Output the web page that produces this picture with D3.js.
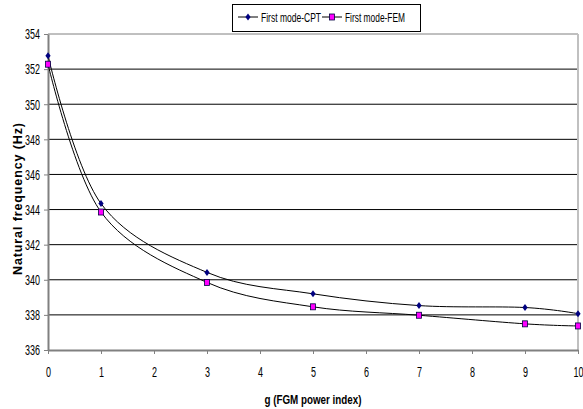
<!DOCTYPE html>
<html>
<head>
<meta charset="utf-8">
<script src="https://cdn.jsdelivr.net/npm/d3@7"></script>
<style>
  body { margin: 0; background: #fff; }
  svg text { font-family: "Liberation Sans", Arial, sans-serif; }
</style>
</head>
<body>
<div class="chart-holder"></div>
<script>
// data
const gValues = [0, 1, 3, 5, 7, 9, 10];
const cptValues = [352.76, 344.34, 340.42, 339.2, 338.53, 338.42, 338.07];
const femValues = [352.28, 343.86, 339.85, 338.46, 337.98, 337.49, 337.37];
const xTickValues = [0, 1, 2, 3, 4, 5, 6, 7, 8, 9, 10];
const yTickValues = [336, 338, 340, 342, 344, 346, 348, 350, 352, 354];
const seriesNames = ['First mode-CPT', 'First mode-FEM'];

const margin = {top: 34, right: 5, bottom: 59, left: 48};
const svg = d3.select('.chart-holder')
  .append('svg')
  .attr('width', 583)
  .attr('height', 409);
const w = +svg.attr('width') - margin.left - margin.right;
const h = +svg.attr('height') - margin.top - margin.bottom;

const g = svg.append('g')
  .attr('transform', `translate(${margin.left},${margin.top})`);

const xScale = d3.scaleLinear().domain([0, 10]).range([0, w]);
const yScale = d3.scaleLinear().domain([336, 354]).range([h, 0]);
const squeeze = 0.6;

// gridlines
g.selectAll('.grid')
  .data(yTickValues.filter(v => v > 336 && v < 354))
  .enter().append('line')
    .attr('x1', 0).attr('x2', w)
    .attr('y1', d => yScale(d)).attr('y2', d => yScale(d))
    .attr('stroke', '#000').attr('stroke-width', 1);

// plot frame top/right
g.append('line').attr('x1', 0).attr('x2', w).attr('y1', 0).attr('y2', 0)
  .attr('stroke', '#808080').attr('stroke-width', 1);
g.append('line').attr('x1', w).attr('x2', w).attr('y1', 0).attr('y2', h)
  .attr('stroke', '#c0c0c0').attr('stroke-width', 2);

// axes
const yAxis = g.append('g')
  .call(d3.axisLeft(yScale).tickValues(yTickValues).tickSize(4).tickSizeOuter(0).tickPadding(3));
yAxis.selectAll('text')
  .attr('font-size', 15).attr('fill', '#000')
  .attr('x', -8 / squeeze)
  .attr('transform', `scale(${squeeze},1)`);

const xAxis = g.append('g')
  .attr('transform', `translate(0,${h})`)
  .call(d3.axisBottom(xScale).tickValues(xTickValues).tickSize(4).tickSizeOuter(0).tickPadding(12));
xAxis.selectAll('text')
  .attr('font-size', 15).attr('fill', '#000')
  .attr('transform', `scale(${squeeze},1)`)
  .attr('x', function(d) { return 0; });
// squeeze x labels around their own tick
xAxis.selectAll('.tick text').attr('transform', `scale(${squeeze},1)`);

[yAxis, xAxis].forEach(a => {
  a.select('.domain').attr('stroke', '#808080').attr('stroke-width', 2);
  a.selectAll('.tick line').attr('stroke', '#808080').attr('stroke-width', 1);
});

// lines
const line = d3.line()
  .x((d, i) => xScale(gValues[i]))
  .y(d => yScale(d))
  .curve(d3.curveCardinal.tension(0));

g.append('path').datum(cptValues)
  .attr('d', line).attr('fill', 'none').attr('stroke', '#000').attr('stroke-width', 1);
g.append('path').datum(femValues)
  .attr('d', line).attr('fill', 'none').attr('stroke', '#000').attr('stroke-width', 1);

const diamond = 'M0,-3.5L2.6,0L0,3.5L-2.6,0Z';

g.selectAll('.cpt')
  .data(cptValues)
  .enter().append('path')
    .attr('class', 'cpt')
    .attr('d', diamond)
    .attr('transform', (d, i) => `translate(${xScale(gValues[i])},${yScale(d)})`)
    .attr('fill', '#000080');

g.selectAll('.fem')
  .data(femValues)
  .enter().append('rect')
    .attr('class', 'fem')
    .attr('x', (d, i) => xScale(gValues[i]) - 2.5)
    .attr('y', d => yScale(d) - 3)
    .attr('width', 5).attr('height', 6)
    .attr('fill', '#ff00ff').attr('stroke', '#000040').attr('stroke-width', 0.8);

// x title
svg.append('text')
  .attr('x', margin.left + w / 2).attr('y', 404)
  .attr('text-anchor', 'middle')
  .attr('font-size', 12.5).attr('font-weight', 'bold')
  .attr('textLength', 97).attr('lengthAdjust', 'spacingAndGlyphs')
  .text('g (FGM power index)');

// y title
svg.append('text')
  .attr('transform', 'translate(22,199) rotate(-90)')
  .attr('text-anchor', 'middle')
  .attr('font-size', 12.5).attr('font-weight', 'bold')
  .attr('textLength', 152).attr('lengthAdjust', 'spacing')
  .text('Natural frequency (Hz)');

// legend
const legend = svg.append('g');
legend.append('rect')
  .attr('x', 232.5).attr('y', 4.5).attr('width', 188).attr('height', 27)
  .attr('fill', '#fff').attr('stroke', '#000').attr('stroke-width', 1);

const legendX = [238, 322];
seriesNames.forEach((name, i) => {
  const lx = legendX[i];
  legend.append('line')
    .attr('x1', lx).attr('x2', lx + 20).attr('y1', 17).attr('y2', 17)
    .attr('stroke', '#000').attr('stroke-width', 1);
  if (i === 0) {
    legend.append('path').attr('d', diamond)
      .attr('transform', `translate(${lx + 10},17)`).attr('fill', '#000080');
  } else {
    legend.append('rect')
      .attr('x', lx + 7.5).attr('y', 14).attr('width', 5).attr('height', 6)
      .attr('fill', '#ff00ff').attr('stroke', '#000040').attr('stroke-width', 0.8);
  }
  legend.append('text')
    .attr('x', lx + 23).attr('y', 21.5)
    .attr('font-size', 13)
    .attr('textLength', 60).attr('lengthAdjust', 'spacingAndGlyphs')
    .text(name);
});
</script>
</body>
</html>
